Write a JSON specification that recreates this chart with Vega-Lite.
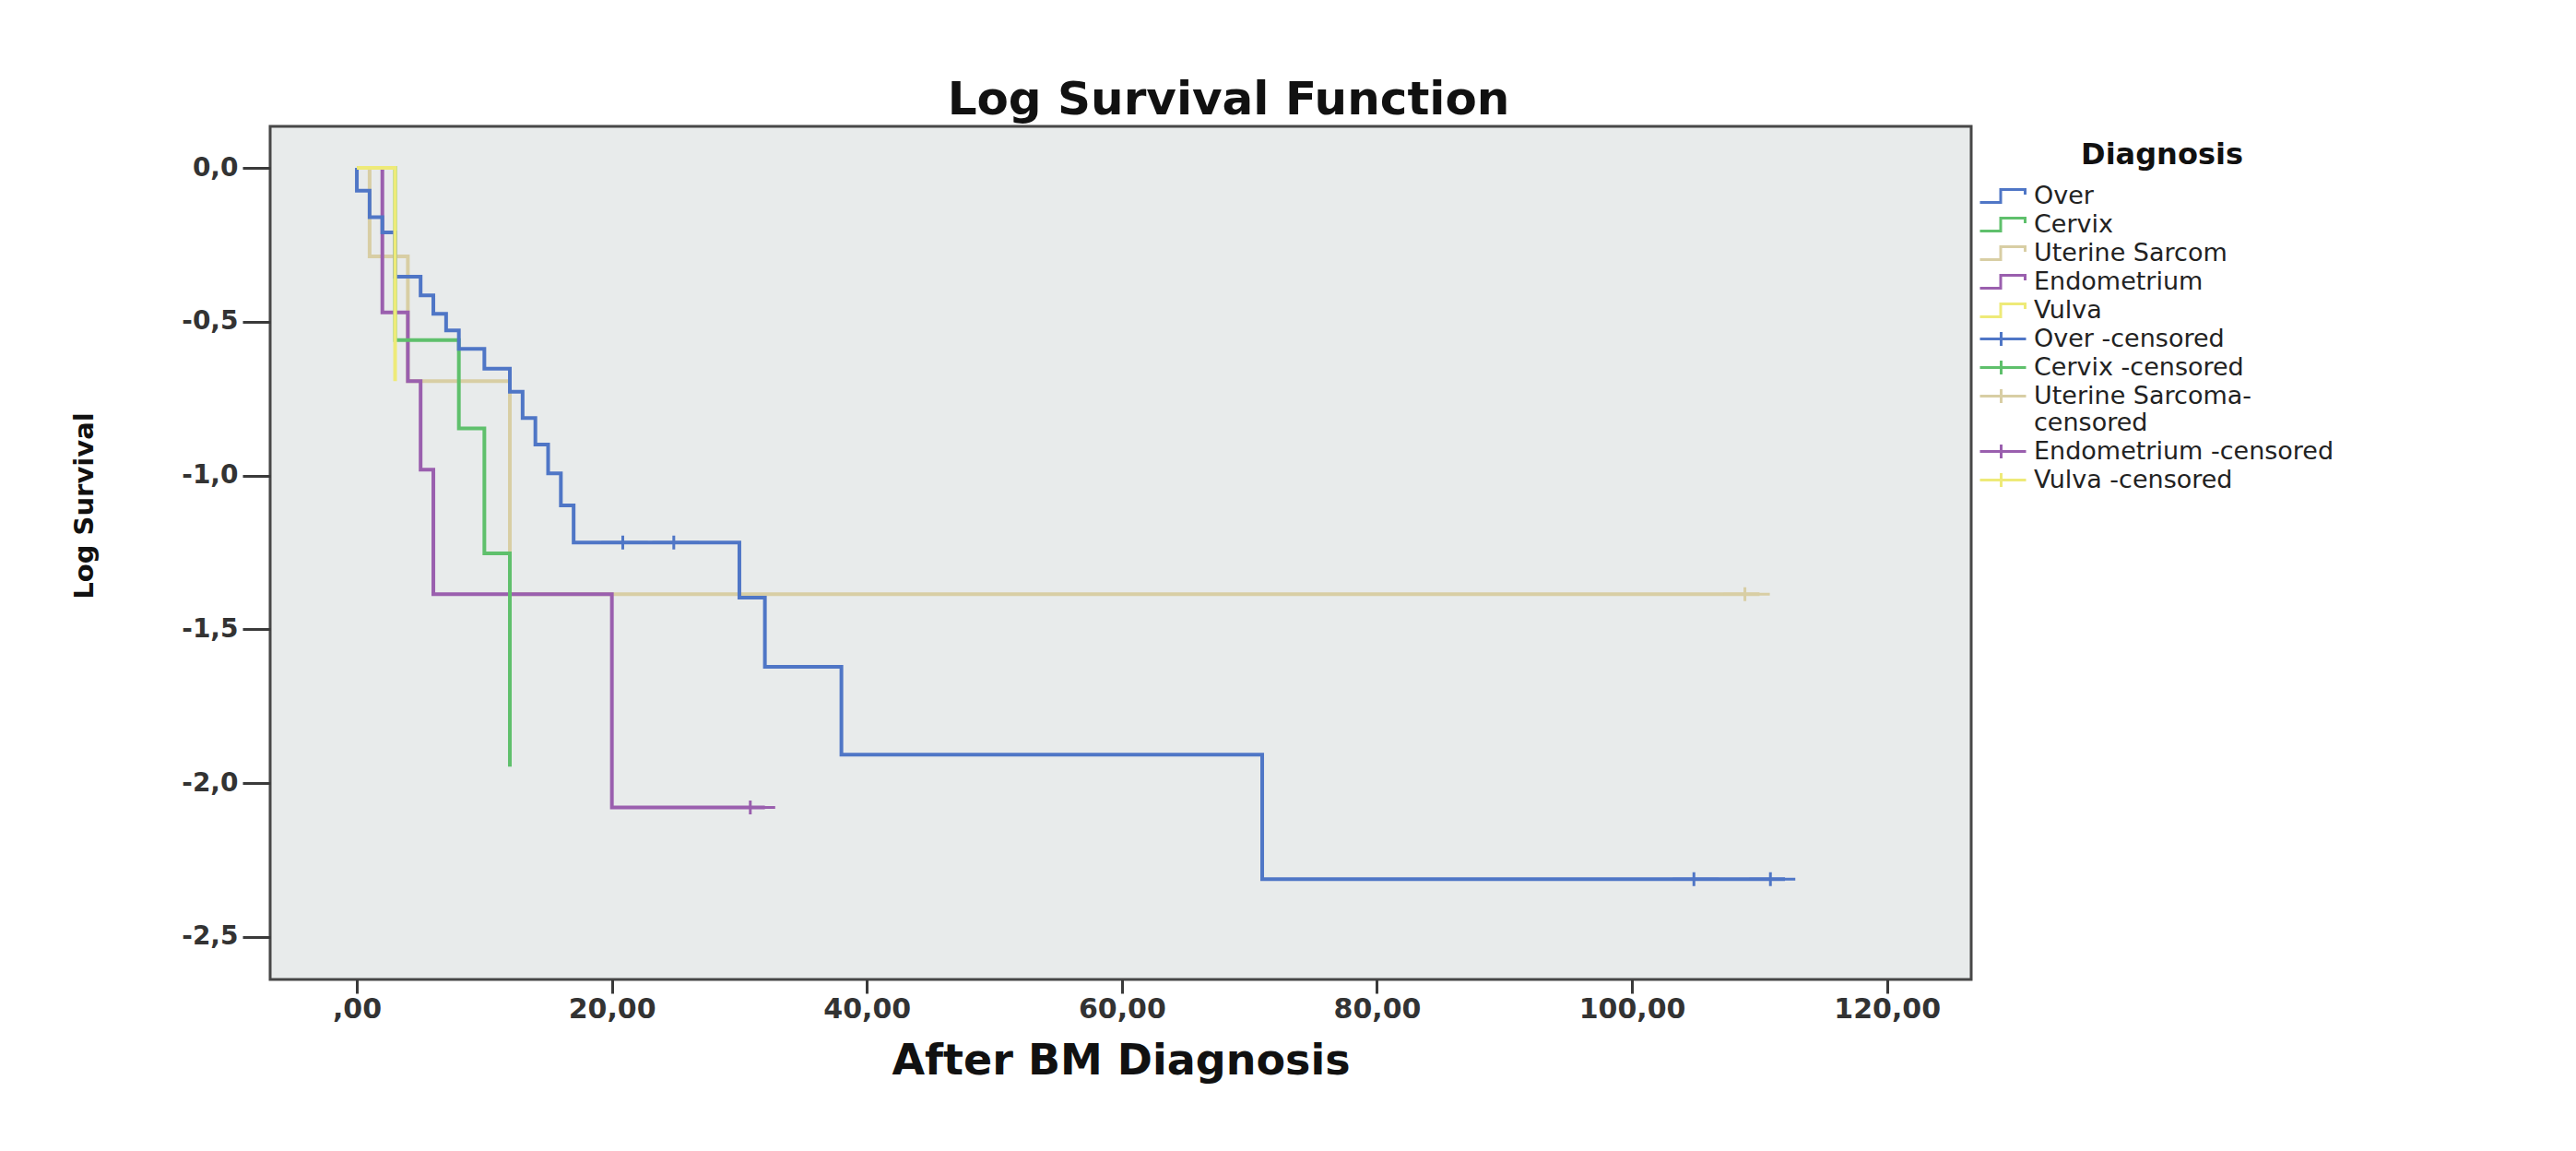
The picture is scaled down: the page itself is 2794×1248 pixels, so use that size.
{
  "$schema": "https://vega.github.io/schema/vega-lite/v6.json",
  "width": 1845,
  "height": 925,
  "autosize": {"type": "none"},
  "padding": {"left": 293, "top": 137, "right": 656, "bottom": 186},
  "background": "#ffffff",
  "title": {
    "text": "Log Survival Function",
    "font": "DejaVu Sans",
    "fontSize": 50,
    "fontWeight": "bold",
    "color": "#111111",
    "anchor": "middle",
    "frame": "group",
    "dx": 117,
    "offset": -37,
    "baseline": "alphabetic"
  },
  "config": {
    "view": {"fill": "#e8ebeb", "stroke": "#474747", "strokeWidth": 3}
  },
  "datasets": {
    "curves": [
      {"label": "Uterine Sarcom", "t": 0, "logS": 0},
      {"label": "Uterine Sarcom", "t": 1, "logS": -0.288},
      {"label": "Uterine Sarcom", "t": 4, "logS": -0.693},
      {"label": "Uterine Sarcom", "t": 12, "logS": -1.386},
      {"label": "Uterine Sarcom", "t": 110, "logS": -1.386},
      {"label": "Endometrium", "t": 0, "logS": 0},
      {"label": "Endometrium", "t": 2, "logS": -0.47},
      {"label": "Endometrium", "t": 4, "logS": -0.693},
      {"label": "Endometrium", "t": 5, "logS": -0.981},
      {"label": "Endometrium", "t": 6, "logS": -1.386},
      {"label": "Endometrium", "t": 20, "logS": -2.079},
      {"label": "Endometrium", "t": 32, "logS": -2.079},
      {"label": "Cervix", "t": 0, "logS": 0},
      {"label": "Cervix", "t": 3, "logS": -0.56},
      {"label": "Cervix", "t": 8, "logS": -0.847},
      {"label": "Cervix", "t": 10, "logS": -1.253},
      {"label": "Cervix", "t": 12, "logS": -1.946},
      {"label": "Over", "t": 0, "logS": 0},
      {"label": "Over", "t": 0, "logS": -0.074},
      {"label": "Over", "t": 1, "logS": -0.16},
      {"label": "Over", "t": 2, "logS": -0.21},
      {"label": "Over", "t": 3, "logS": -0.354},
      {"label": "Over", "t": 5, "logS": -0.414},
      {"label": "Over", "t": 6, "logS": -0.474},
      {"label": "Over", "t": 7, "logS": -0.528},
      {"label": "Over", "t": 8, "logS": -0.588},
      {"label": "Over", "t": 10, "logS": -0.653},
      {"label": "Over", "t": 12, "logS": -0.728},
      {"label": "Over", "t": 13, "logS": -0.813},
      {"label": "Over", "t": 14, "logS": -0.899},
      {"label": "Over", "t": 15, "logS": -0.993},
      {"label": "Over", "t": 16, "logS": -1.097},
      {"label": "Over", "t": 17, "logS": -1.218},
      {"label": "Over", "t": 30, "logS": -1.397},
      {"label": "Over", "t": 32, "logS": -1.622},
      {"label": "Over", "t": 38, "logS": -1.907},
      {"label": "Over", "t": 71, "logS": -2.312},
      {"label": "Over", "t": 112, "logS": -2.312},
      {"label": "Vulva", "t": 0, "logS": 0},
      {"label": "Vulva", "t": 3, "logS": -0.693}
    ],
    "censored": [
      {"label": "Over -censored", "t": 21, "logS": -1.218},
      {"label": "Over -censored", "t": 25, "logS": -1.218},
      {"label": "Over -censored", "t": 105, "logS": -2.312},
      {"label": "Over -censored", "t": 111, "logS": -2.312},
      {"label": "Uterine Sarcoma-censored", "t": 109, "logS": -1.386},
      {"label": "Endometrium -censored", "t": 31, "logS": -2.079}
    ]
  },
  "encoding": {
    "x": {
      "field": "t",
      "type": "quantitative",
      "scale": {"domain": [-6.8, 126.6], "nice": false, "zero": false},
      "axis": {
        "title": "After BM Diagnosis",
        "values": [0, 20, 40, 60, 80, 100, 120],
        "labelExpr": "datum.value == 0 ? ',00' : replace(format(datum.value, '.2f'), '.', ',')",
        "domain": false,
        "grid": false,
        "tickSize": 15,
        "tickWidth": 3,
        "tickColor": "#3a3a3a",
        "labelFont": "DejaVu Sans",
        "labelFontSize": 30,
        "labelFontWeight": "bold",
        "labelColor": "#333333",
        "labelPadding": 2,
        "titleFont": "DejaVu Sans",
        "titleFontSize": 46,
        "titleFontWeight": "bold",
        "titleColor": "#111111",
        "titlePadding": 19
      }
    },
    "y": {
      "field": "logS",
      "type": "quantitative",
      "scale": {"domain": [-2.638, 0.135], "nice": false, "zero": false},
      "axis": {
        "title": "Log Survival",
        "values": [0, -0.5, -1, -1.5, -2, -2.5],
        "labelExpr": "(datum.value < 0 ? '-' : '') + replace(format(abs(datum.value), '.1f'), '.', ',')",
        "domain": false,
        "grid": false,
        "tickSize": 30,
        "tickWidth": 3,
        "tickColor": "#3a3a3a",
        "labelFont": "DejaVu Sans",
        "labelFontSize": 28,
        "labelFontWeight": "bold",
        "labelColor": "#333333",
        "labelPadding": 5,
        "titleFont": "DejaVu Sans",
        "titleFontSize": 29,
        "titleFontWeight": "bold",
        "titleColor": "#111111",
        "titlePadding": 90,
        "titleY": 411
      }
    },
    "color": {
      "field": "label",
      "type": "nominal",
      "scale": {
        "domain": ["Over", "Cervix", "Uterine Sarcom", "Endometrium", "Vulva", "Over -censored", "Cervix -censored", "Uterine Sarcoma-censored", "Endometrium -censored", "Vulva -censored"],
        "range": ["#4f76c6", "#5fc06c", "#d8cea4", "#9a5fae", "#eeea78", "#4f76c6", "#5fc06c", "#d8cea4", "#9a5fae", "#eeea78"]
      },
      "legend": {
        "title": "Diagnosis",
        "orient": "none",
        "legendX": 1866,
        "legendY": 16,
        "titleFont": "DejaVu Sans",
        "titleFontSize": 32,
        "titleFontWeight": "bold",
        "titleColor": "#111111",
        "titleAnchor": "middle",
        "titlePadding": 14,
        "labelFont": "DejaVu Sans",
        "labelFontSize": 27,
        "labelColor": "#222222",
        "labelLimit": 700,
        "labelOffset": 20,
        "symbolStrokeWidth": 3,
        "symbolSize": 400,
        "symbolOpacity": 1,
        "rowPadding": 3,
        "labelExpr": "datum.label == 'Uterine Sarcoma-censored' ? ['Uterine Sarcoma-', 'censored'] : datum.label"
      }
    }
  },
  "layer": [
    {
      "data": {"name": "curves"},
      "mark": {"type": "line", "interpolate": "step-after", "strokeWidth": 4}
    },
    {
      "data": {"name": "censored"},
      "mark": {"type": "point", "filled": false, "size": 400, "strokeWidth": 3, "opacity": 1},
      "encoding": {
        "shape": {
          "field": "label",
          "type": "nominal",
          "scale": {
            "domain": ["Over", "Cervix", "Uterine Sarcom", "Endometrium", "Vulva", "Over -censored", "Cervix -censored", "Uterine Sarcoma-censored", "Endometrium -censored", "Vulva -censored"],
            "range": ["M-2.5,0.7H-0.25V-0.7H2.4V-0.15", "M-2.5,0.7H-0.25V-0.7H2.4V-0.15", "M-2.5,0.7H-0.25V-0.7H2.4V-0.15", "M-2.5,0.7H-0.25V-0.7H2.4V-0.15", "M-2.5,0.7H-0.25V-0.7H2.4V-0.15", "M-2.5,0H2.5M-0.2,-0.75V0.75", "M-2.5,0H2.5M-0.2,-0.75V0.75", "M-2.5,0H2.5M-0.2,-0.75V0.75", "M-2.5,0H2.5M-0.2,-0.75V0.75", "M-2.5,0H2.5M-0.2,-0.75V0.75"]
          },
          "legend": {
            "title": "Diagnosis",
            "orient": "none",
            "legendX": 1866,
            "legendY": 16,
            "titleFont": "DejaVu Sans",
            "titleFontSize": 32,
            "titleFontWeight": "bold",
            "titleColor": "#111111",
            "titleAnchor": "middle",
            "titlePadding": 14,
            "labelFont": "DejaVu Sans",
            "labelFontSize": 27,
            "labelColor": "#222222",
            "labelLimit": 700,
            "labelOffset": 20,
            "symbolStrokeWidth": 3,
            "symbolSize": 400,
            "symbolOpacity": 1,
            "rowPadding": 3,
            "labelExpr": "datum.label == 'Uterine Sarcoma-censored' ? ['Uterine Sarcoma-', 'censored'] : datum.label"
          }
        }
      }
    }
  ]
}
